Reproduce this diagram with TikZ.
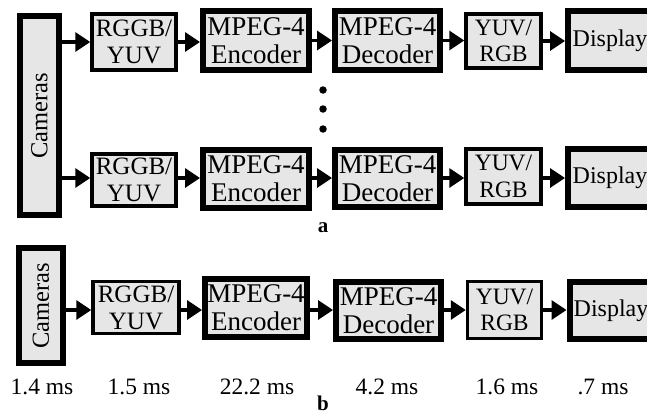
\documentclass[tikz,border=0pt]{standalone}
\usepackage{fontspec}
\setmainfont{Liberation Serif}
\usepackage{graphicx}
\usetikzlibrary{arrows.meta}
\definecolor{boxgray}{RGB}{230,230,230}
\begin{document}
\begin{tikzpicture}[x=1pt,y=-1pt,
  thinbox/.style={draw, fill=boxgray, line width=3.5pt, align=center, inner sep=0pt,
    font=\fontsize{25}{27}\selectfont},
  thickbox/.style={draw, fill=boxgray, line width=6pt, align=center, inner sep=0pt,
    font=\fontsize{27}{28}\selectfont},
  yuvtext/.style={font=\fontsize{23.5}{26.5}\selectfont},
  disptext/.style={font=\fontsize{24}{27}\selectfont},
  arr/.style={line width=3.5pt, -{Triangle[length=15pt,width=19pt]}},
  timelab/.style={font=\fontsize{23.5}{25}\selectfont, inner sep=0pt},
  partlab/.style={font=\fontsize{21}{24}\selectfont\bfseries, inner sep=0pt},
  dotnode/.style={circle, fill=black, inner sep=0pt, minimum size=7.5pt}
]
\useasboundingbox (0,0) rectangle (647,415);

% ---------- part a, first row ----------
\node[thickbox, minimum width=39pt, minimum height=199pt] (cam1) at (39.5,115.5)
  {\rotatebox{90}{\fontsize{24.5}{27}\selectfont Cameras}};
\node[thinbox, minimum width=84pt, minimum height=56pt] (rg1) at (134,42) {RGGB/\\YUV};
\node[thickbox, minimum width=106pt, minimum height=59pt] (enc1) at (256,40.5) {MPEG-4\\Encoder};
\node[thickbox, minimum width=105pt, minimum height=59pt] (dec1) at (387.5,40.5) {MPEG-4\\Decoder};
\node[thinbox, yuvtext, minimum width=75pt, minimum height=54pt] (yuv1) at (503.5,41) {YUV/\\RGB};
\node[thickbox, disptext, minimum width=84pt, minimum height=59pt] (disp1) at (610,40.5) {Display};

\draw[arr] (cam1.east |- rg1.west) -- (rg1.west);
\draw[arr] (rg1) -- (enc1.west |- rg1.east);
\draw[arr] (enc1) -- (dec1);
\draw[arr] (dec1) -- (yuv1.west |- dec1.east);
\draw[arr] (yuv1) -- (disp1.west |- yuv1.east);

% dots
\node[dotnode] (dot1) at (323,90) {};
\node[dotnode] (dot2) at (323,109) {};
\node[dotnode] (dot3) at (323,129) {};

% ---------- part a, last row ----------
\node[thinbox, minimum width=84pt, minimum height=52pt] (rg2) at (134,180) {RGGB/\\YUV};
\node[thickbox, minimum width=106pt, minimum height=58pt] (enc2) at (256,179) {MPEG-4\\Encoder};
\node[thickbox, minimum width=105pt, minimum height=57pt] (dec2) at (387.5,178.5) {MPEG-4\\Decoder};
\node[thinbox, yuvtext, minimum width=75pt, minimum height=55pt] (yuv2) at (503.5,176.5) {YUV/\\RGB};
\node[thickbox, disptext, minimum width=84pt, minimum height=58pt] (disp2) at (610,178) {Display};

\draw[arr] (cam1.east |- 0,178) -- (rg2.west |- 0,178);
\draw[arr] (rg2.east |- 0,178) -- (enc2.west |- 0,178);
\draw[arr] (enc2.east |- 0,178) -- (dec2.west |- 0,178);
\draw[arr] (dec2.east |- 0,178) -- (yuv2.west |- 0,178);
\draw[arr] (yuv2.east |- 0,178) -- (disp2.west |- 0,178);

\node[partlab] (la) at (323,228) {a};

% ---------- part b ----------
\node[thickbox, minimum width=44pt, minimum height=115pt] (camb) at (41,305.5)
  {\rotatebox{90}{\fontsize{24.5}{27}\selectfont Cameras}};
\node[thinbox, minimum width=86pt, minimum height=52pt] (rgb) at (136,307.5) {RGGB/\\YUV};
\node[thickbox, minimum width=102pt, minimum height=58pt] (encb) at (256,308) {MPEG-4\\Encoder};
\node[thickbox, minimum width=105pt, minimum height=57pt] (decb) at (388.5,310.5) {MPEG-4\\Decoder};
\node[thinbox, yuvtext, minimum width=74pt, minimum height=57pt] (yuvb) at (504.5,310) {YUV/\\RGB};
\node[thickbox, disptext, minimum width=83pt, minimum height=57pt] (dispb) at (611,310.5) {Display};

\draw[arr] (camb.east |- 0,310) -- (rgb.west |- 0,310);
\draw[arr] (rgb.east |- 0,310) -- (encb.west |- 0,310);
\draw[arr] (encb.east |- 0,310) -- (decb.west |- 0,310);
\draw[arr] (decb.east |- 0,310) -- (yuvb.west |- 0,310);
\draw[arr] (yuvb.east |- 0,310) -- (dispb.west |- 0,310);

% timings
\node[timelab] (t1) at (42,387) {1.4 ms};
\node[timelab] (t2) at (139,387) {1.5 ms};
\node[timelab] (t3) at (257,387) {22.2 ms};
\node[timelab] (t4) at (387,387) {4.2 ms};
\node[timelab] (t5) at (507,387) {1.6 ms};
\node[timelab] (t6) at (603,387) {.7 ms};

\node[partlab] (lb) at (323,403) {b};
\end{tikzpicture}
\end{document}
